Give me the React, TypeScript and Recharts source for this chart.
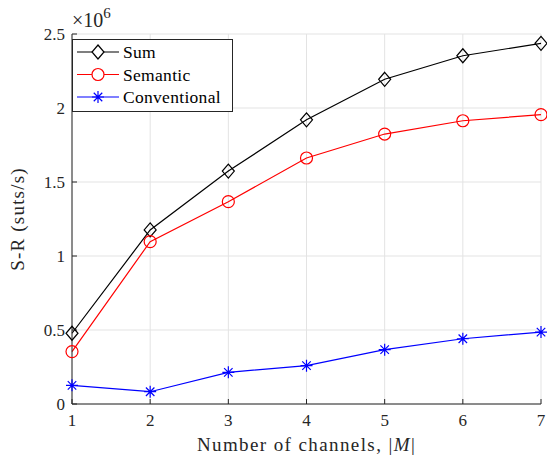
import React from "react";
import { LineChart, Line, XAxis, YAxis, CartesianGrid, Legend } from "recharts";

const channels = [1, 2, 3, 4, 5, 6, 7];
const sumRate = [478000, 1176000, 1574000, 1920000, 2194000, 2353000, 2437000];
const semanticRate = [354000, 1097000, 1367000, 1662000, 1824000, 1914000, 1955000];
const conventionalRate = [126000, 83000, 214000, 259000, 367000, 441000, 486000];
const yTicks = [0, 500000, 1000000, 1500000, 2000000, 2500000];

const data = channels.map((m, i) => ({
  m,
  sum: sumRate[i],
  semantic: semanticRate[i],
  conventional: conventionalRate[i],
}));

const FONT = "'Liberation Serif', 'DejaVu Serif', serif";
const AXIS = "#262626";

const diamondPath = (cx: number, cy: number) =>
  `M${cx},${cy - 7}L${cx + 6},${cy}L${cx},${cy + 7}L${cx - 6},${cy}Z`;

const Diamond = (p: any) => {
  if (p.cx == null) return <g key={p.key} />;
  return <path key={p.key} d={diamondPath(p.cx, p.cy)} fill="none" stroke="#000" strokeWidth={1.2} />;
};

const Ring = (p: any) => {
  if (p.cx == null) return <g key={p.key} />;
  return <circle key={p.key} cx={p.cx} cy={p.cy} r={6} fill="none" stroke="#ff0000" strokeWidth={1.2} />;
};

const starPath = (cx: number, cy: number) => {
  const r = 6;
  const d = r * 0.707;
  return `M${cx},${cy - r}L${cx},${cy + r}M${cx - r},${cy}L${cx + r},${cy}M${cx - d},${cy - d}L${cx + d},${cy + d}M${cx - d},${cy + d}L${cx + d},${cy - d}`;
};

const Star = (p: any) => {
  if (p.cx == null) return <g key={p.key} />;
  return <path key={p.key} d={starPath(p.cx, p.cy)} fill="none" stroke="#0000ff" strokeWidth={1.2} />;
};

const legendItems = [
  { label: "Sum", color: "#000000", marker: "diamond" },
  { label: "Semantic", color: "#ff0000", marker: "circle" },
  { label: "Conventional", color: "#0000ff", marker: "star" },
];

const LegendBox = () => (
  <svg width={161} height={73} style={{ display: "block" }}>
    <rect x={0.5} y={0.5} width={160} height={72} fill="#fff" stroke={AXIS} strokeWidth={1} />
    {legendItems.map((it, i) => {
      const y = 13 + i * 22.5;
      return (
        <g key={it.label}>
          <line x1={5} x2={47} y1={y} y2={y} stroke={it.color} strokeWidth={1.2} />
          {it.marker === "diamond" && <path d={diamondPath(26, y)} fill="#fff" stroke={it.color} strokeWidth={1.2} />}
          {it.marker === "circle" && <circle cx={26} cy={y} r={6} fill="#fff" stroke={it.color} strokeWidth={1.2} />}
          {it.marker === "star" && <path d={starPath(26, y)} fill="none" stroke={it.color} strokeWidth={1.2} />}
          <text x={51} y={y + 6} fontFamily={FONT} fontSize={17.5} fill="#000" letterSpacing={0.3}>
            {it.label}
          </text>
        </g>
      );
    })}
  </svg>
);

const tickStyle = { fill: AXIS, fontSize: 17, fontFamily: FONT };

export default function App() {
  return (
    <div style={{ position: "absolute", left: 0, top: 0, background: "#fff" }}>
      <LineChart width={547} height={455} data={data} margin={{ top: 34, right: 6, left: 0, bottom: 0 }}>
        <CartesianGrid stroke="#e3e3e3" strokeWidth={1} />
        <XAxis
          dataKey="m"
          type="number"
          domain={[1, 7]}
          ticks={channels}
          height={51}
          stroke={AXIS}
          tickSize={-5}
          tickMargin={15}
          tick={tickStyle}
          label={{
            content: (p: any) => (
              <text
                x={p.viewBox.x + p.viewBox.width / 2}
                y={p.viewBox.y + 47}
                textAnchor="middle"
                fontFamily={FONT}
                fontSize={19}
                letterSpacing={1.4}
                fill={AXIS}
              >
                Number of channels, |<tspan fontStyle="italic">M</tspan>|
              </text>
            ),
          }}
        />
        <XAxis
          xAxisId="top"
          orientation="top"
          dataKey="m"
          type="number"
          domain={[1, 7]}
          ticks={channels}
          height={0}
          stroke={AXIS}
          tickSize={-5}
          tick={() => <g />}
        />
        <YAxis
          domain={[0, 2500000]}
          ticks={yTicks}
          width={72}
          stroke={AXIS}
          tickSize={-5}
          tickMargin={12}
          tick={tickStyle}
          tickFormatter={(v: number) => String(v / 1000000)}
          label={{
            content: (p: any) => {
              const x = p.viewBox.x + 24;
              const y = p.viewBox.y + p.viewBox.height / 2;
              return (
                <text
                  x={x}
                  y={y}
                  transform={`rotate(-90, ${x}, ${y})`}
                  textAnchor="middle"
                  fontFamily={FONT}
                  fontSize={19}
                  letterSpacing={1.2}
                  fill={AXIS}
                >
                  S-R (suts/s)
                </text>
              );
            },
          }}
        />
        <YAxis
          yAxisId="right"
          orientation="right"
          domain={[0, 2500000]}
          ticks={yTicks}
          width={0}
          stroke={AXIS}
          tickSize={-5}
          tick={() => <g />}
        />
        <Legend
          layout="vertical"
          align="center"
          verticalAlign="middle"
          wrapperStyle={{ left: 72, top: 39, width: 161, height: 73 }}
          content={() => <LegendBox />}
        />
        <Line dataKey="sum" name="Sum" stroke="#000000" strokeWidth={1.2} dot={Diamond} isAnimationActive={false} />
        <Line dataKey="semantic" name="Semantic" stroke="#ff0000" strokeWidth={1.2} dot={Ring} isAnimationActive={false} />
        <Line dataKey="conventional" name="Conventional" stroke="#0000ff" strokeWidth={1.2} dot={Star} isAnimationActive={false} />
        <text x={72} y={27} fontFamily={FONT} fontSize={20} fill={AXIS}>
          ×10<tspan dy={-9} fontSize={15}>6</tspan>
        </text>
      </LineChart>
    </div>
  );
}
